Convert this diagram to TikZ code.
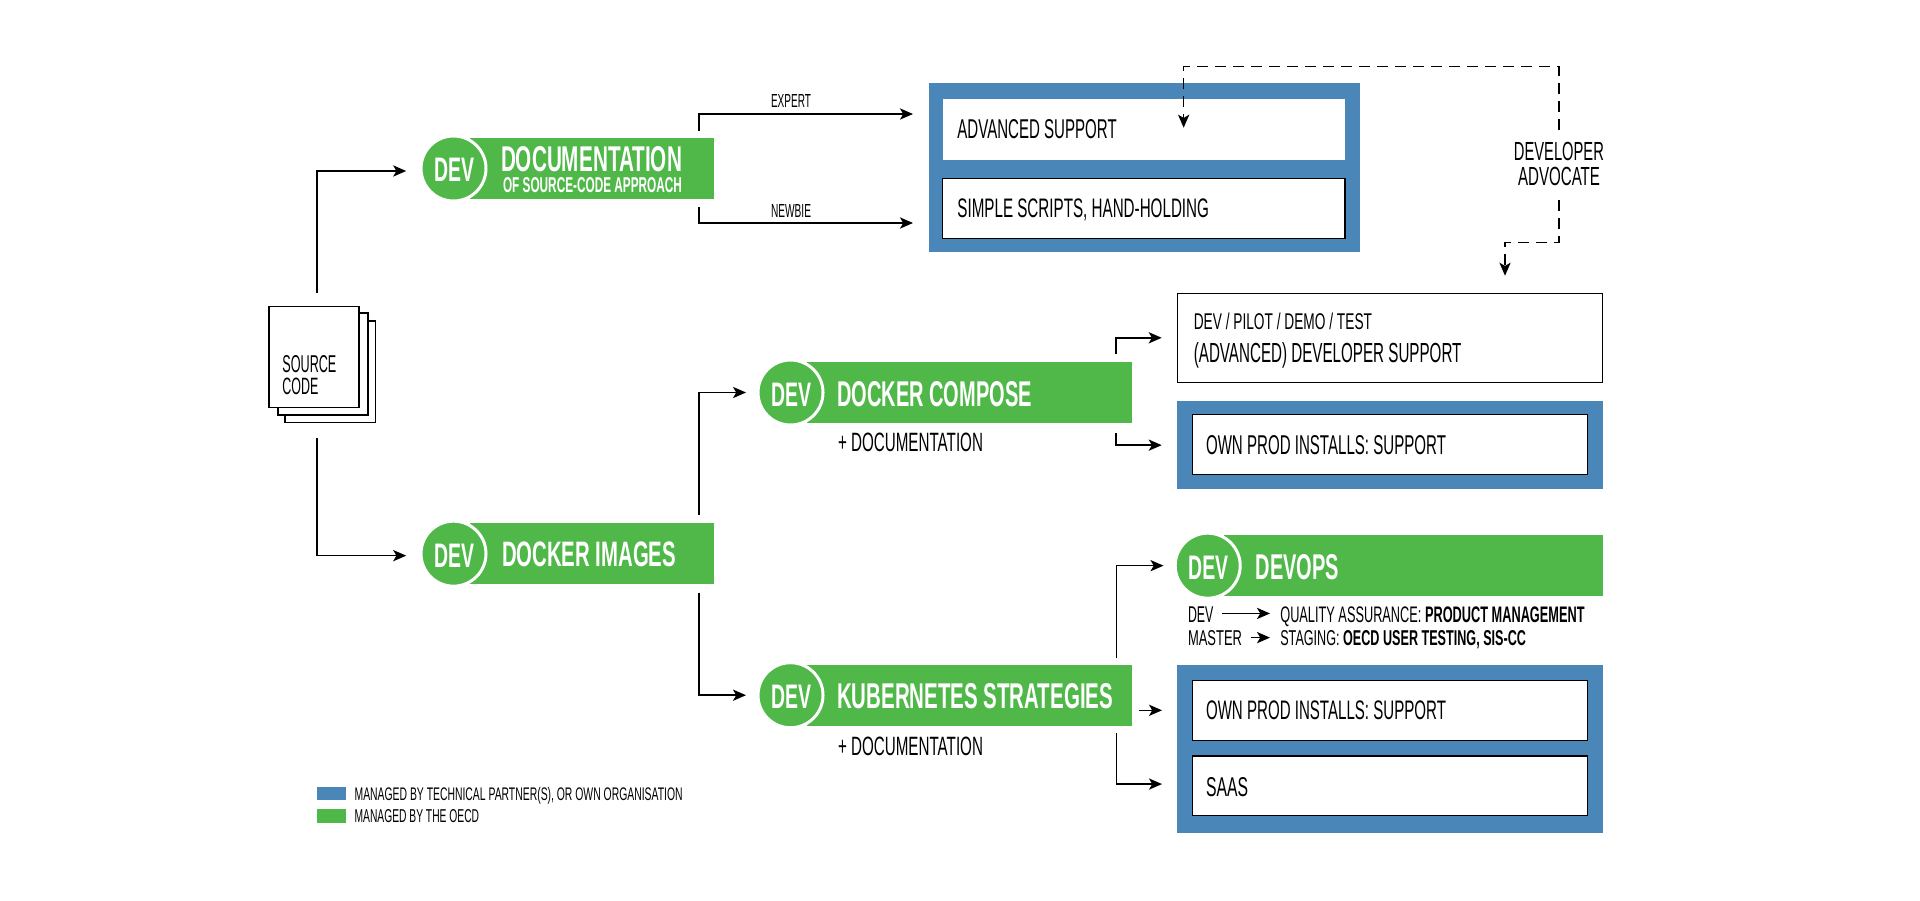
\documentclass[tikz,border=0pt]{standalone}
\usepackage{graphicx}
\usepackage{fontspec}
\setmainfont{Liberation Sans}
\usetikzlibrary{arrows.meta,calc}
\definecolor{oecdgreen}{HTML}{4FB848}
\definecolor{partnerblue}{HTML}{4A87B8}
\newlength\pxu \setlength\pxu{0.5pt}
\tikzset{
  lblnode/.style={anchor=base west,inner sep=0,outer sep=0,text=black},
  boxnode/.style={rectangle,inner sep=0,outer sep=0},
  bluebox/.style={boxnode,fill=partnerblue},
  greenbox/.style={boxnode,fill=oecdgreen},
  whitebox/.style={boxnode,fill=white},
  linebox/.style={boxnode,fill=white,draw=black,line width=0.75pt},
  devcircle/.style={circle,inner sep=0,outer sep=0,fill=oecdgreen,draw=white,line width=1.5pt,minimum size=32.5pt},
  arr/.style={draw=black,line width=0.8pt,-{Stealth[length=6.5pt,width=5.6pt,inset=1.6pt]}},
  dasharr/.style={arr,line width=0.7pt,dash pattern=on 5.5pt off 3.5pt},
}
% [options]{name}{x}{baseline y}{width}{cap height}{text}
\newcommand\tl[7][]{\node[lblnode,#1] (#2) at ({#3},{#4}) {\resizebox{#5\pxu}{#6\pxu}{#7}};}
% [style]{name}{x1}{y1}{x2}{y2}
\newcommand\bx[6][linebox]{\node[#1,minimum width={((#5)-(#3))*0.5pt},minimum height={((#6)-(#4))*0.5pt}] (#2) at ({((#3)+(#5))/2},{((#4)+(#6))/2}) {};}
% {name}{left}{top}{right}{bottom}
\newcommand\devbar[5]{%
  \bx[greenbox]{#1b}{#2+47}{#3}{#4}{#5}
  \node[devcircle] (#1c) at ({#2+30.5},{((#3)+(#5))/2}) {};
  \tl[text=white]{#1d}{#2+11}{#3+43.7}{40}{23.4}{\bfseries DEV}
}
\begin{document}
\begin{tikzpicture}[x=0.5pt,y=-0.5pt]
\useasboundingbox (0,0) rectangle (1920,900);

% source code stack
\bx{srcb}{285}{321}{375.7}{422.7}
\bx{srcm}{278}{313}{368}{415}
\bx{srcf}{269}{306.7}{359}{407.7}
\tl{srcta}{282.4}{372}{54}{17}{SOURCE}
\tl{srctb}{282.4}{394}{36}{16.5}{CODE}

% green bars
\devbar{doc}{423}{138}{714}{199}
\tl[text=white]{doct}{501}{171.7}{181}{25}{\bfseries DOCUMENTATION}
\tl[text=white]{docs}{503}{192}{179}{15}{\bfseries OF SOURCE-CODE APPROACH}

\devbar{img}{423}{523.3}{714}{584}
\tl[text=white]{imgt}{502}{566.7}{174}{24.7}{\bfseries DOCKER IMAGES}

\devbar{comp}{760}{362.3}{1131.5}{422.7}
\tl[text=white]{compt}{837.3}{406}{194.5}{25}{\bfseries DOCKER COMPOSE}
\tl{compd}{838}{451}{145}{18.5}{+ DOCUMENTATION}

\devbar{kube}{760}{664.7}{1131.5}{725.7}
\tl[text=white]{kubet}{837}{708}{276}{25}{\bfseries KUBERNETES STRATEGIES}
\tl{kubed}{838}{755}{145}{18.5}{+ DOCUMENTATION}

\devbar{dops}{1177.2}{535.3}{1602.8}{596}
\tl[text=white]{dopst}{1255.6}{579}{83.4}{25}{\bfseries DEVOPS}

% blue groups
\bx[bluebox]{advouter}{929}{83.3}{1359.6}{251.7}
\bx[whitebox]{adv}{942.7}{99}{1345}{160}
\bx{simple}{942.7}{178.3}{1345}{238.3}
\tl{advt}{957.4}{138.3}{159.3}{19}{ADVANCED SUPPORT}
\tl{simt}{957.4}{217.7}{251.6}{18.7}{SIMPLE SCRIPTS, HAND-HOLDING}

\bx{devbox}{1177.3}{293.3}{1602.5}{382.3}
\tl{devta}{1193.8}{329}{178.2}{16.5}{DEV / PILOT / DEMO / TEST}
\tl{devtb}{1193.8}{362}{267.7}{20}{(ADVANCED) DEVELOPER SUPPORT}

\bx[bluebox]{prodouter}{1177.3}{401}{1602.5}{489.3}
\bx{prod}{1192.5}{414.3}{1587.3}{474.3}
\tl{prodt}{1206}{454}{240}{19}{OWN PROD INSTALLS: SUPPORT}

\bx[bluebox]{ownouter}{1177.2}{664.7}{1602.8}{832.7}
\bx{own}{1192.4}{680.3}{1587.3}{740.3}
\bx{saas}{1192.4}{756}{1587.3}{815.7}
\tl{ownt}{1206}{719.3}{240}{18.7}{OWN PROD INSTALLS: SUPPORT}
\tl{saast}{1206}{796}{42}{19}{SAAS}

% devops rows
\tl{rowdev}{1188}{622.7}{25.4}{15.7}{DEV}
\tl{rowmas}{1188}{645}{54}{15}{MASTER}
\tl{rowqa}{1280.3}{622.7}{304.3}{15.7}{QUALITY ASSURANCE: \textbf{PRODUCT MANAGEMENT}}
\tl{rowst}{1280.3}{645}{245.7}{15}{STAGING: \textbf{OECD USER TESTING, SIS-CC}}

% developer advocate
\tl{devl}{1513.9}{160}{90}{18.3}{DEVELOPER}
\tl{advl}{1518}{185}{82}{18.3}{ADVOCATE}
\coordinate (dtop) at (1371,66.7);
\coordinate (dmid) at (1505,242.7);

% connector labels
\tl{exl}{771}{107}{40}{13}{EXPERT}
\tl{nel}{771}{217}{40}{13}{NEWBIE}

% legend
\bx[bluebox]{legb}{317}{787}{346.4}{800.3}
\bx[greenbox]{legg}{317}{809.3}{346.4}{822.7}
\tl{legbt}{354.6}{800}{328}{13.2}{MANAGED BY TECHNICAL PARTNER(S), OR OWN ORGANISATION}
\tl{leggt}{354.6}{822.7}{124.5}{13}{MANAGED BY THE OECD}

% connectors
\draw[arr,shorten <=7pt,shorten >=7.4pt] ([xshift=1.4pt]srcf.north) |- ([yshift=-1.25pt]docc.west);
\draw[arr,shorten <=15.15pt,shorten >=7.4pt] ([xshift=1.4pt]srcf.south) |- ([yshift=-1pt]imgc.west);
\draw[arr,shorten <=3.65pt,shorten >=8pt] ([xshift=-7.5pt]docb.north east) |- ([yshift=26.75pt]advouter.west);
\draw[arr,shorten <=3.85pt,shorten >=8pt] ([xshift=-7.5pt]docb.south east) |- ([yshift=-27.75pt]advouter.west);
\draw[arr,shorten <=4.3pt,shorten >=6pt] ([xshift=-7.6pt]imgb.north east) |- (compc.west);
\draw[arr,shorten <=4.35pt,shorten >=6pt] ([xshift=-7.6pt]imgb.south east) |- (kubec.west);
\draw[arr,shorten <=4pt,shorten >=7.8pt] ([xshift=-7.7pt]compb.north east) |- (devbox.west);
\draw[arr,shorten <=5.3pt,shorten >=7.8pt] ([xshift=-7.7pt]compb.south east) |- (prodouter.west);
\draw[arr,shorten <=3.6pt,shorten >=5.85pt] ([xshift=-7.6pt]kubeb.north east) |- (dopsc.west);
\draw[arr,shorten <=3.7pt,shorten >=15.2pt] (kubeb.east |- own.west) -- (own.west);
\draw[arr,shorten <=3.8pt,shorten >=15.2pt] ([xshift=-7.6pt]kubeb.south east) |- ([yshift=0.9pt]saas.west);
\draw[arr,shorten <=4.5pt,shorten >=5.15pt] ([yshift=0.7pt]rowdev.east) -- ([yshift=0.7pt]rowdev.east -| rowqa.west);
\draw[arr,shorten <=4.3pt,shorten >=5.15pt] (rowmas.east) -- (rowmas.east -| rowst.west);
\draw[dasharr,shorten <=5.85pt,shorten >=0.9pt] (devl.north) |- (dtop) -| ([xshift=19.9pt]adv.center);
\draw[dasharr,shorten <=7.5pt,shorten >=8.8pt] (advl.south) |- (dmid) -- (dmid |- devbox.north);
\end{tikzpicture}
\end{document}
